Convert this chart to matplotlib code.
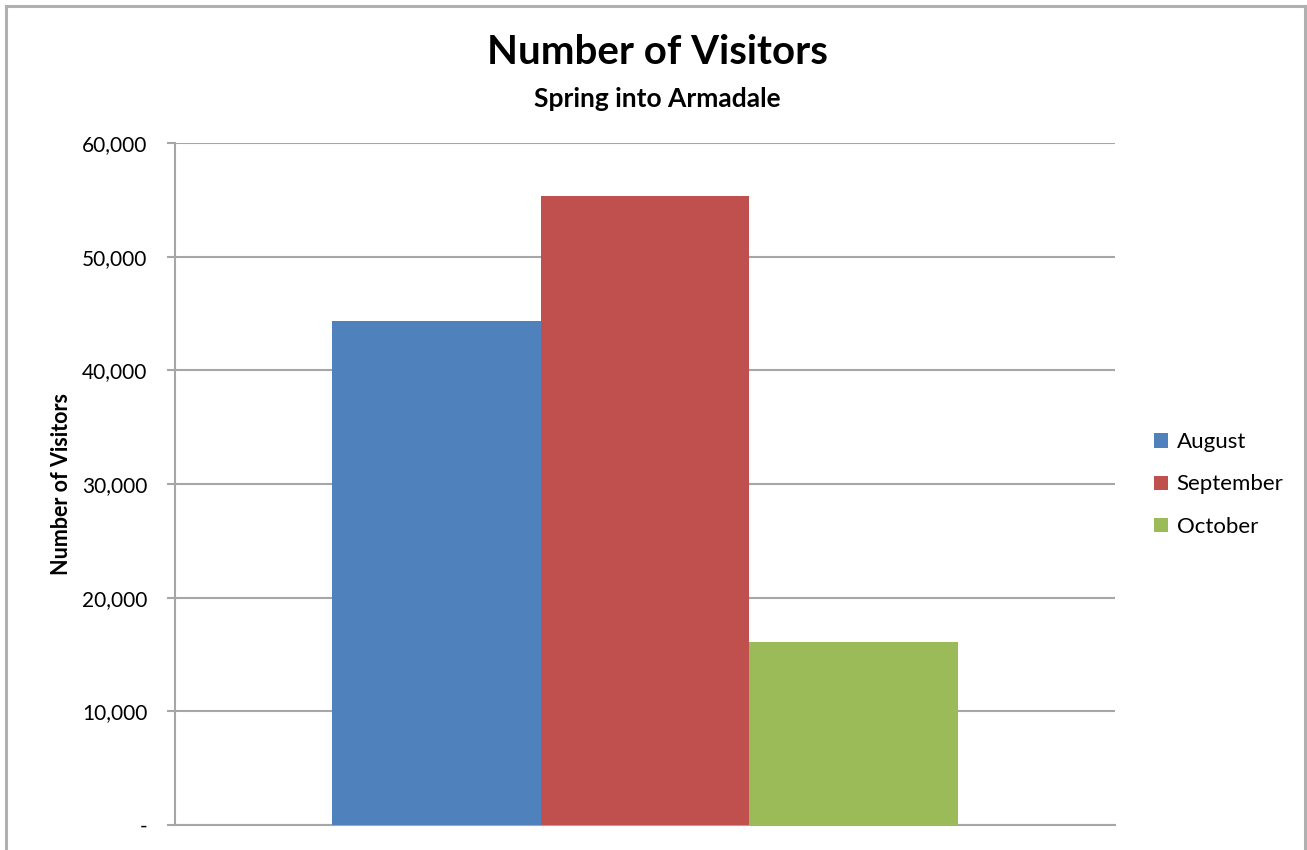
import matplotlib.pyplot as plt
from matplotlib.lines import Line2D
from matplotlib.ticker import FuncFormatter

plt.rcParams['font.family'] = ['Lato', 'DejaVu Sans']

months = ['August', 'September', 'October']
visitors = [44300, 55300, 16100]
colors = ['#4F81BD', '#C0504D', '#9BBB59']
y_ticks = [0, 10000, 20000, 30000, 40000, 50000, 60000]

GRID = '#A6A6A6'


def fmt_visitors(v, pos):
    if v == 0:
        return '-'
    return f"{v:,.0f}"


fig = plt.figure(figsize=(13.07, 8.5), dpi=100)
ax = fig.add_axes([0.1339, 0.0294, 0.7192, 0.8024])

bar_w = 0.2223
for i, (m, v, c) in enumerate(zip(months, visitors, colors)):
    ax.bar((i - 1) * bar_w, v, width=bar_w, color=c, label=m, zorder=3)

ax.set_xlim(-0.5, 0.5)
ax.set_ylim(0, 60000)
ax.set_yticks(y_ticks)
ax.yaxis.set_major_formatter(FuncFormatter(fmt_visitors))
ax.set_xticks([])
ax.grid(axis='y', color=GRID, linewidth=1.5, zorder=0)
ax.tick_params(axis='y', length=6, width=1.5, color=GRID, pad=14, labelsize=15)

for side in ['top', 'right']:
    ax.spines[side].set_visible(False)
for side in ['left', 'bottom']:
    ax.spines[side].set_color(GRID)
    ax.spines[side].set_linewidth(1.5)

ax.set_ylabel('Number of Visitors', fontsize=15.5, fontweight='bold', labelpad=7)

fig.text(0.503, 0.938, 'Number of Visitors', ha='center', va='center',
         fontsize=29, fontweight='bold')
fig.text(0.503, 0.884, 'Spring into Armadale', ha='center', va='center',
         fontsize=19, fontweight='bold')

leg = ax.legend(loc='center left', bbox_to_anchor=(0.868, 0.43),
                bbox_transform=fig.transFigure, frameon=False, fontsize=16,
                handlelength=0.6, handleheight=0.6, handletextpad=0.4,
                labelspacing=1.0)

# outer chart border (bottom edge is cut off in the original)
bx0, bx1, by1 = 6 / 1307, 1305 / 1307, 1 - 6 / 850
for xs, ys in [([bx0, bx0], [0, by1]), ([bx0, bx1], [by1, by1]), ([bx1, bx1], [by1, 0])]:
    fig.add_artist(Line2D(xs, ys, color='#B0B0B0', linewidth=2.2, transform=fig.transFigure))

fig.savefig('out.png', dpi=100)
